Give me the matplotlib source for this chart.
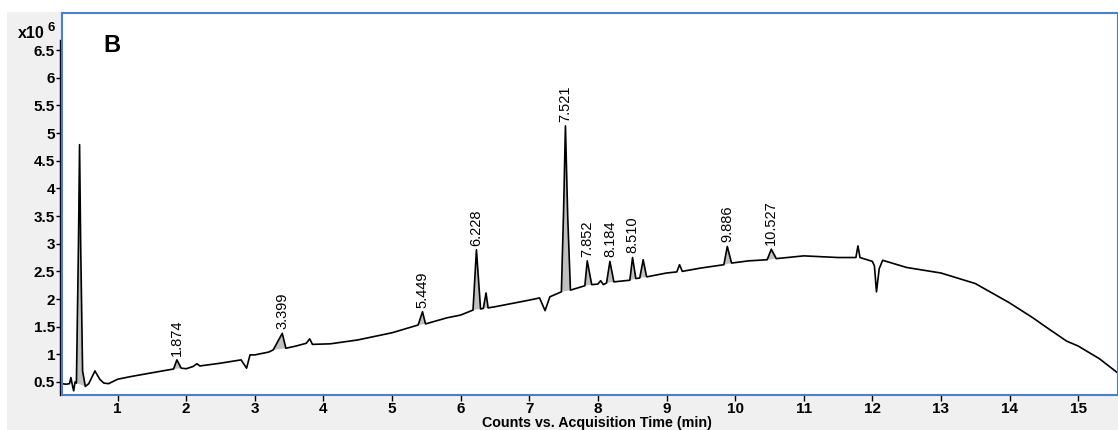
import numpy as np
import matplotlib
matplotlib.use("Agg")
import matplotlib.pyplot as plt
from matplotlib.patches import Rectangle

# retention time (min) and counts (x10^6)
rt = [0.19, 0.25, 0.30, 0.32, 0.345, 0.36, 0.38, 0.40, 0.43, 0.446, 0.462, 0.49, 0.53,
      0.58, 0.67, 0.74, 0.80, 0.87, 1.0, 1.2, 1.47, 1.70, 1.816, 1.864, 1.927, 2.0,
      2.10, 2.156, 2.20, 2.5, 2.8, 2.88, 2.93, 3.0, 3.2, 3.268, 3.40, 3.453, 3.6, 3.75,
      3.80, 3.84, 4.1, 4.5, 5.0, 5.38, 5.444, 5.488, 5.8, 6.0, 6.18, 6.23, 6.29, 6.33,
      6.37, 6.40, 6.5, 7.0, 7.15, 7.23, 7.30, 7.468, 7.50, 7.527, 7.56, 7.60, 7.81,
      7.845, 7.91, 8.0, 8.04, 8.08, 8.126, 8.175, 8.233, 8.466, 8.505, 8.553, 8.61,
      8.66, 8.71, 9.0, 9.15, 9.19, 9.23, 9.5, 9.836, 9.886, 9.948, 10.2, 10.467,
      10.527, 10.60, 11.0, 11.5, 11.76, 11.79, 11.82, 12.0, 12.03, 12.06, 12.10,
      12.15, 12.5, 13.0, 13.5, 14.0, 14.34, 14.5, 14.83, 15.0, 15.31, 15.58]
counts = [0.47, 0.46, 0.47, 0.58, 0.42, 0.34, 0.50, 0.48, 3.0, 4.79, 3.0, 0.70, 0.42,
          0.47, 0.70, 0.55, 0.48, 0.47, 0.55, 0.60, 0.66, 0.71, 0.735, 0.90, 0.75, 0.74,
          0.78, 0.83, 0.79, 0.84, 0.90, 0.75, 0.99, 0.99, 1.04, 1.08, 1.38, 1.11, 1.15, 1.20,
          1.28, 1.18, 1.19, 1.26, 1.39, 1.53, 1.77, 1.55, 1.66, 1.71, 1.80, 2.89, 1.82, 1.83,
          2.11, 1.84, 1.86, 1.98, 2.02, 1.79, 2.04, 2.13, 3.6, 5.13, 3.5, 2.16, 2.24,
          2.69, 2.26, 2.27, 2.33, 2.26, 2.29, 2.68, 2.31, 2.34, 2.75, 2.37, 2.38,
          2.71, 2.40, 2.47, 2.49, 2.62, 2.50, 2.56, 2.62, 2.95, 2.65, 2.69, 2.71,
          2.90, 2.73, 2.78, 2.75, 2.75, 2.96, 2.75, 2.68, 2.60, 2.13, 2.55,
          2.70, 2.57, 2.47, 2.28, 1.93, 1.66, 1.52, 1.24, 1.15, 0.92, 0.66]

# integrated (shaded) peaks: start / end time
shade_start = [0.40, 1.816, 3.268, 5.38, 6.18, 6.33, 7.468, 7.81, 8.126, 8.466, 8.61, 9.836, 10.467]
shade_end = [0.53, 1.927, 3.453, 5.488, 6.29, 6.40, 7.60, 7.91, 8.233, 8.553, 8.71, 9.948, 10.60]

# labelled peaks: label text, apex time, apex height
peak_labels = ["1.874", "3.399", "5.449", "6.228", "7.521", "7.852", "8.184", "8.510", "9.886", "10.527"]
peak_rt = [1.864, 3.40, 5.444, 6.23, 7.527, 7.845, 8.175, 8.505, 9.886, 10.527]
peak_h = [0.90, 1.38, 1.77, 2.89, 5.13, 2.69, 2.68, 2.75, 2.95, 2.90]

x_ticks = list(range(1, 16))
y_ticks = [0.5, 1, 1.5, 2, 2.5, 3, 3.5, 4, 4.5, 5, 5.5, 6, 6.5]
y_tick_labels = ["0.5", "1", "1.5", "2", "2.5", "3", "3.5", "4", "4.5", "5", "5.5", "6", "6.5"]

plt.rcParams['font.family'] = ['Liberation Sans', 'DejaVu Sans']

W, H = 1118, 430
fig = plt.figure(figsize=(W / 100, H / 100), dpi=100, facecolor='white')
bg = Rectangle((7 / W, 0), 1 - 7 / W, 1 - 12 / H, transform=fig.transFigure,
               facecolor='#f0f0f0', edgecolor='none', zorder=-10)
fig.patches.append(bg)

ax = fig.add_axes([62 / W, 35 / H, 1 - 62 / W, (395 - 13) / H])
ax.set_zorder(1)
ax.set_facecolor('white')

rt_a = np.array(rt)
counts_a = np.array(counts)
for s, e in zip(shade_start, shade_end):
    sel = (rt_a >= s - 1e-9) & (rt_a <= e + 1e-9)
    ax.fill(rt_a[sel], counts_a[sel], facecolor='#c0c0c0', edgecolor='none', zorder=1)

ax.plot(rt_a, counts_a, color='black', lw=1.2, zorder=2)

for lab, t, h in zip(peak_labels, peak_rt, peak_h):
    ax.annotate(lab, (t, h), xytext=(0, 3), textcoords='offset points', rotation=90,
                ha='center', va='bottom', fontsize=10.5, color='black')

ax.set_xlim(0.19, 15.58)
ax.set_ylim(0.265, 7.17)
ax.set_xticks(x_ticks)
ax.set_xticklabels([str(t) for t in x_ticks], fontsize=11, fontweight='bold')
ax.set_yticks(y_ticks)
ax.set_yticklabels(y_tick_labels, fontsize=11, fontweight='bold')
ax.tick_params(axis='both', direction='out', length=4, width=1, color='black', pad=1)

for sp in ax.spines.values():
    sp.set_color('#4a7fd0')
    sp.set_linewidth(1.5)

# black y-axis line just left of the frame
ax.plot([-0.002, -0.002], [0, (6.68 - 0.265) / (7.17 - 0.265)], transform=ax.transAxes,
        color='black', lw=1, clip_on=False)

ax.text(0.039, 0.914, 'B', transform=ax.transAxes, fontsize=17, fontweight='bold',
        ha='left', va='center')

fig.text(18 / W, 1 - 38 / H, 'x10', fontsize=11.5, fontweight='bold', ha='left', va='baseline')
fig.text(48 / W, 1 - 31 / H, '6', fontsize=9.5, fontweight='bold', ha='left', va='baseline')
fig.text(597 / W, 1 - 423 / H, 'Counts vs. Acquisition Time (min)', fontsize=10.3,
         fontweight='bold', ha='center', va='center')

fig.savefig('out.png', dpi=100, facecolor=fig.get_facecolor())
